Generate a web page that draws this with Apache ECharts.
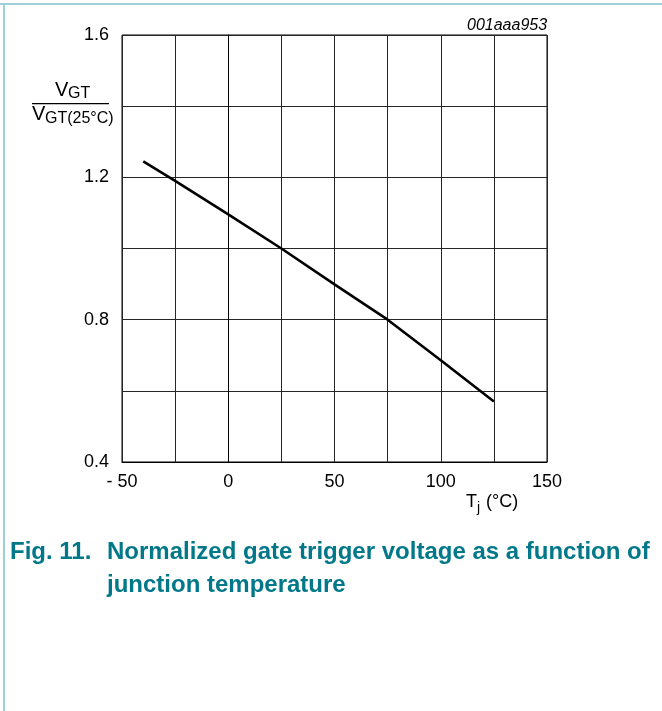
<!DOCTYPE html>
<html>
<head>
<meta charset="utf-8">
<script src="https://cdn.jsdelivr.net/npm/echarts@6/dist/echarts.min.js"></script>
<style>
html,body{margin:0;padding:0;background:#fff;}
#c{width:662px;height:711px;}
</style>
</head>
<body>
<div id="c"></div>
<script>
// Data
var tempC = [-40, -25, 0, 25, 50, 75, 100, 125];
var vgtRatio = [1.245, 1.19, 1.096, 1.0, 0.899, 0.8, 0.686, 0.57];
var xTickLabels = {"-50": "- 50", "0": "0", "50": "50", "100": "100", "150": "150"};
var yTickLabels = {"0.4": "0.4", "0.8": "0.8", "1.2": "1.2", "1.6": "1.6"};

var points = tempC.map(function (t, i) { return [t, vgtRatio[i]]; });

var chart = echarts.init(document.getElementById('c'), null, {renderer: 'canvas'});
var FONT = '"Liberation Sans", Arial, sans-serif';
var gridColor = '#262626';
var teal = '#00788a';

chart.setOption({
  animation: false,
  backgroundColor: '#fff',
  grid: {left: 122, right: 115, top: 35, bottom: 249, show: true, borderColor: '#000', borderWidth: 1, backgroundColor: 'transparent'},
  xAxis: {
    type: 'value', min: -50, max: 150, interval: 25,
    axisLine: {show: true, lineStyle: {color: '#000', width: 1}},
    axisTick: {show: false},
    splitLine: {show: true, lineStyle: {color: gridColor, width: 1}},
    axisLabel: {
      color: '#000', fontFamily: FONT, fontSize: 18, margin: 11,
      formatter: function (v) { var k = String(Math.round(v)); return xTickLabels[k] !== undefined ? xTickLabels[k] : ''; }
    }
  },
  yAxis: {
    type: 'value', min: 0.4, max: 1.6, interval: 0.2,
    axisLine: {show: true, lineStyle: {color: '#000', width: 1}},
    axisTick: {show: false},
    splitLine: {show: true, lineStyle: {color: gridColor, width: 1}},
    axisLabel: {
      color: '#000', fontFamily: FONT, fontSize: 18, margin: 13,
      formatter: function (v) { var k = (Math.round(v * 10) / 10).toFixed(1); return yTickLabels[k] !== undefined ? yTickLabels[k] : ''; }
    }
  },
  series: [{
    type: 'line', data: points, showSymbol: false, smooth: false,
    lineStyle: {color: '#000', width: 2.6}, z: 5
  }],
  graphic: [
    // frame lines (top and left)
    {type: 'rect', shape: {x: 0, y: 3, width: 662, height: 2}, style: {fill: '#9fcfd8'}, silent: true},
    {type: 'rect', shape: {x: 3, y: 3, width: 2, height: 708}, style: {fill: '#9fcfd8'}, silent: true},
    // figure code
    {type: 'text', x: 467, y: 25.5, style: {text: '001aaa953', font: 'italic 16px ' + FONT, fill: '#000', verticalAlign: 'middle'}},
    // y axis title: fraction
    {type: 'text', x: 55, y: 100, style: {text: 'V', font: '20px ' + FONT, fill: '#000', verticalAlign: 'bottom'}},
    {type: 'text', x: 68, y: 102, style: {text: 'GT', font: '16px ' + FONT, fill: '#000', verticalAlign: 'bottom'}},
    {type: 'rect', shape: {x: 32, y: 103, width: 77, height: 1.2}, style: {fill: '#000'}},
    {type: 'text', x: 32, y: 124, style: {text: 'V', font: '20px ' + FONT, fill: '#000', verticalAlign: 'bottom'}},
    {type: 'text', x: 45, y: 127, style: {text: 'GT(25°C)', font: '16px ' + FONT, fill: '#000', verticalAlign: 'bottom'}},
    // x axis title
    {type: 'text', x: 466, y: 511, style: {text: 'T', font: '18px ' + FONT, fill: '#000', verticalAlign: 'bottom'}},
    {type: 'text', x: 477, y: 515, style: {text: 'j', font: '14px ' + FONT, fill: '#000', verticalAlign: 'bottom'}},
    {type: 'text', x: 486, y: 511, style: {text: '(°C)', font: '18px ' + FONT, fill: '#000', verticalAlign: 'bottom'}},
    // caption
    {type: 'text', x: 10, y: 552, style: {text: 'Fig. 11.', font: 'bold 24px ' + FONT, fill: teal, verticalAlign: 'middle'}},
    {type: 'text', x: 107, y: 552, style: {text: 'Normalized gate trigger voltage as a function of', font: 'bold 24px ' + FONT, fill: teal, verticalAlign: 'middle'}},
    {type: 'text', x: 107, y: 585, style: {text: 'junction temperature', font: 'bold 24px ' + FONT, fill: teal, verticalAlign: 'middle'}}
  ]
});
</script>
</body>
</html>
